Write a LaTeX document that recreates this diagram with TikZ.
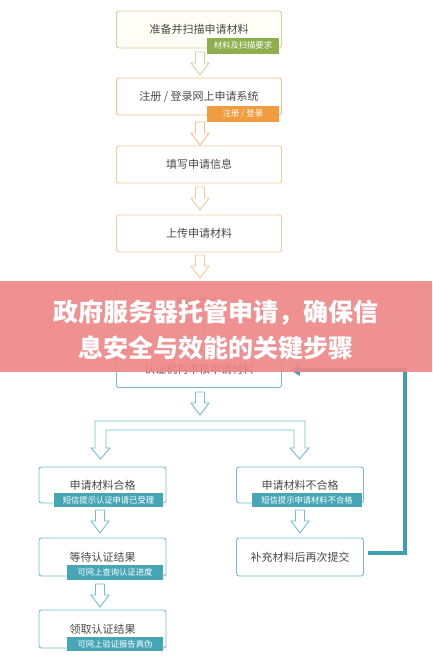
\documentclass[tikz,border=0pt]{standalone}
\usepackage{fontspec}
\setmainfont{Noto Sans CJK SC}
\usetikzlibrary{arrows.meta}
\definecolor{olivebd}{HTML}{CCD49C}
\definecolor{orgbd}{HTML}{F3C08A}
\definecolor{tanbd}{HTML}{F0CC9C}
\definecolor{tealbd}{HTML}{72BFCB}
\definecolor{tealline}{HTML}{3E9FAF}
\definecolor{greentag}{HTML}{8EAF50}
\definecolor{orgtag}{HTML}{F29C40}
\definecolor{tealtag}{HTML}{46A6B6}
\definecolor{txt}{HTML}{4A4A4A}
\definecolor{banner}{HTML}{EE8888}
\tikzset{
  box/.style={draw, rounded corners=2.5pt, line width=0.9pt, fill=white,
    minimum width=165pt, minimum height=37pt, inner sep=0pt,
    font=\fontsize{11}{13}\selectfont, text=txt},
  sbox/.style={box, minimum width=127pt, minimum height=37pt},
  tag/.style={inner sep=0pt, text=white, font=\fontsize{8.3}{10}\selectfont},
  harrow/.pic={\draw[fill=white, line width=0.9pt, line join=miter]
     (-4.5,0) -- (4.5,0) -- (4.5,11) -- (9,11) -- (0,23) -- (-9,11) -- (-4.5,11) -- cycle;},
}
\begin{document}
\begin{tikzpicture}[x=1pt,y=-1pt]
\useasboundingbox (0,0) rectangle (432,659);
% top column
\node[box, draw=olivebd, fill={rgb,255:red,254;green,254;blue,246}] (b1) at (199,29.5) {准备并扫描申请材料};
\node[tag, fill=greentag, minimum width=72pt, minimum height=16pt] (t1) at (243,45.5) {材料及扫描要求};
\pic[draw=olivebd] at (200,52) {harrow};
\node[box, draw=orgbd] (b2) at (199,96.5) {注册 / 登录网上申请系统};
\node[tag, fill=orgtag, minimum width=72pt, minimum height=16pt] (t2) at (243,114) {注册 / 登录};
\pic[draw=orgbd] at (200,122) {harrow};
\node[box, draw=tanbd] (b3) at (199,164.5) {填写申请信息};
\pic[draw=tanbd] at (200,187) {harrow};
\node[box, draw=tanbd] (b4) at (199,233.5) {上传申请材料};
\pic[draw=tanbd] at (200,255) {harrow};
\node[box, draw=tanbd] (b5) at (199,302) {确认提交};
\pic[draw=tealbd] at (200,323) {harrow};
\node[box, draw=tealbd] (b6) at (199,369) {认证机构审核申请材料};
\pic[draw=tealbd] at (200,392) {harrow};
% branch
\draw[tealbd, fill=white, line width=0.9pt, line join=miter]
  (95,448) -- (95,421) -- (305,421) -- (305,448) -- (309,448) -- (299.5,459)
  -- (290,448) -- (294,448) -- (294,430) -- (106,430) -- (106,448) -- (110,448)
  -- (100.5,459) -- (91,448) -- cycle;
% lower boxes
\node[sbox, draw=tealbd, minimum height=36pt] (l1) at (102.5,485) {申请材料合格};
\node[tag, fill=tealtag, minimum width=109pt, minimum height=14pt] (tl1) at (108.5,500) {短信提示认证申请已受理};
\node[sbox, draw=tealbd, minimum height=36pt] (r1) at (300,485) {申请材料不合格};
\node[tag, fill=tealtag, minimum width=110pt, minimum height=14pt] (tr1) at (307,500) {短信提示申请材料不合格};
\pic[draw=tealbd] at (100,510) {harrow};
\pic[draw=tealbd] at (300,510) {harrow};
\node[sbox, draw=tealbd, minimum height=38pt] (l2) at (102.5,557) {等待认证结果};
\node[tag, fill=tealtag, minimum width=96pt, minimum height=15pt] (tl2) at (115,572.5) {可网上查询认证进度};
\node[sbox, draw=tealbd, minimum height=38pt] (r2) at (300,557) {补充材料后再次提交};
\pic[draw=tealbd] at (100,584) {harrow};
\node[sbox, draw=tealbd, minimum height=38pt] (l3) at (102.5,629) {领取认证结果};
\node[tag, fill=tealtag, minimum width=96pt, minimum height=14pt] (tl3) at (115,644) {可网上验证报告真伪};
% feedback line
\coordinate (c1) at (405,553);
\coordinate (c2) at (405,370);
\draw[tealline, line width=3.2pt, shorten <=4pt, shorten >=8pt,
  -{Triangle[length=10pt,width=11pt]}]
  (r2.east |- c1) -- (c1) -- (c2) -- (b6.east |- c2);
% banner
\fill[banner, opacity=0.92] (0,281) rectangle (432,372);
\node[text=white, font=\fontsize{25}{36}\selectfont\bfseries, align=center] (title) at (216,330)
  {政府服务器托管申请，确保信\\息安全与效能的关键步骤};
\end{tikzpicture}
\end{document}
